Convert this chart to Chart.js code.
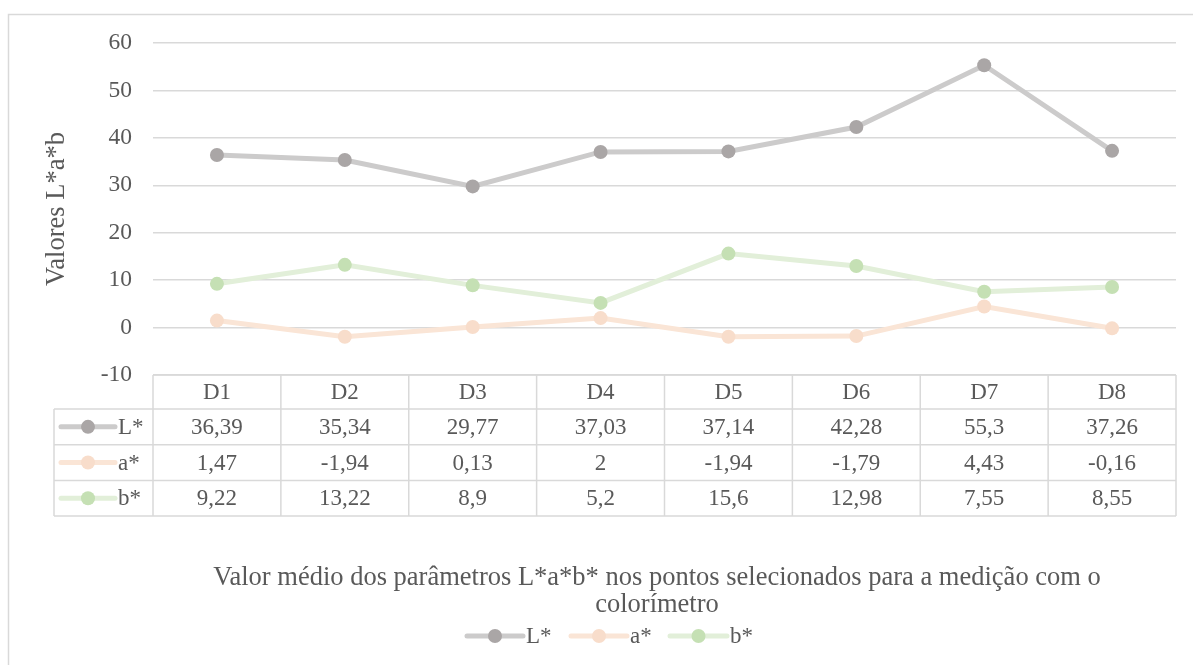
<!DOCTYPE html>
<html>
<head>
<meta charset="utf-8">
<script src="https://cdn.jsdelivr.net/npm/chart.js@4.4.1/dist/chart.umd.min.js"></script>
<style>
  html, body { margin: 0; padding: 0; background: #ffffff; }
  #wrap { width: 1193px; height: 665px; }
</style>
</head>
<body>
<div id="wrap"><canvas id="chart" width="1193" height="665"></canvas></div>
<script>
// Sampling points and mean colorimeter readings
const categories = ['D1', 'D2', 'D3', 'D4', 'D5', 'D6', 'D7', 'D8'];
const lValues = [36.39, 35.34, 29.77, 37.03, 37.14, 42.28, 55.3, 37.26];
const aValues = [1.47, -1.94, 0.13, 2, -1.94, -1.79, 4.43, -0.16];
const bValues = [9.22, 13.22, 8.9, 5.2, 15.6, 12.98, 7.55, 8.55];
const seriesNames = ['L*', 'a*', 'b*'];
const yMin = -10;
const yMax = 60;
const yStep = 10;
const yTitle = 'Valores L*a*b';
const chartTitle = [
  'Valor médio dos parâmetros L*a*b* nos pontos selecionados para a medição com o',
  'colorímetro'
];

const FONT = "'Liberation Serif', 'Times New Roman', serif";
const TEXT = '#595959';
const GRID = '#d9d9d9';
const lineColors = ['#cccbcb', '#fae5d6', '#e2efd9'];
const markerColors = ['#aaa6a6', '#f8ddcb', '#c5e0b4'];
const seriesValues = [lValues, aValues, bValues];

const fmt = v => String(v).replace('.', ',');

function drawKey(ctx, x1, x2, y, i) {
  ctx.save();
  ctx.strokeStyle = lineColors[i];
  ctx.lineWidth = 5;
  ctx.lineCap = 'round';
  ctx.beginPath();
  ctx.moveTo(x1, y);
  ctx.lineTo(x2, y);
  ctx.stroke();
  ctx.fillStyle = markerColors[i];
  ctx.beginPath();
  ctx.arc((x1 + x2) / 2, y, 7, 0, Math.PI * 2);
  ctx.fill();
  ctx.restore();
}

// Data table under the plot, title and legend
const tablePlugin = {
  id: 'dataTable',
  beforeDraw(chart) {
    const ctx = chart.ctx;
    ctx.save();
    ctx.strokeStyle = GRID;
    ctx.lineWidth = 1.5;
    ctx.strokeRect(8.5, 14.5, 1300, 800);
    ctx.restore();
  },
  afterDraw(chart) {
    const ctx = chart.ctx;
    const xs = chart.scales.x;
    const area = chart.chartArea;
    const colW = (area.right - area.left) / categories.length;
    const top = area.bottom;
    const headerBottom = top + 34;
    const rowH = 35.7;
    const bottom = headerBottom + rowH * 3;
    const keyLeft = 54;

    ctx.save();
    ctx.strokeStyle = GRID;
    ctx.lineWidth = 1.5;
    ctx.beginPath();
    // horizontal rules
    ctx.moveTo(area.left, top); ctx.lineTo(area.right, top);
    for (let r = 0; r <= 3; r++) {
      const y = headerBottom + r * rowH;
      ctx.moveTo(keyLeft, y); ctx.lineTo(area.right, y);
    }
    // vertical rules
    ctx.moveTo(keyLeft, headerBottom); ctx.lineTo(keyLeft, bottom);
    for (let c = 0; c <= categories.length; c++) {
      const x = area.left + c * colW;
      ctx.moveTo(x, top); ctx.lineTo(x, bottom);
    }
    ctx.stroke();

    ctx.fillStyle = TEXT;
    ctx.font = '23px ' + FONT;
    ctx.textAlign = 'center';
    ctx.textBaseline = 'middle';
    categories.forEach((c, i) => {
      const x = xs.getPixelForValue(i);
      ctx.fillText(c, x, (top + headerBottom) / 2 + 1);
      seriesValues.forEach((vals, r) => {
        const y = headerBottom + r * rowH + rowH / 2 + 1;
        ctx.fillText(fmt(vals[i]), x, y);
      });
    });
    // row keys
    seriesNames.forEach((name, r) => {
      const y = headerBottom + r * rowH + rowH / 2;
      drawKey(ctx, 61, 115, y, r);
      ctx.fillStyle = TEXT;
      ctx.textAlign = 'left';
      ctx.fillText(name, 118, y + 1);
    });

    // title
    ctx.font = '26.5px ' + FONT;
    ctx.textAlign = 'center';
    ctx.fillStyle = TEXT;
    ctx.fillText(chartTitle[0], 657, 578);
    ctx.fillText(chartTitle[1], 657, 605);

    // legend
    ctx.font = '23px ' + FONT;
    const ly = 636;
    const keys = [[467, 523], [571, 627], [670, 727]];
    seriesNames.forEach((name, i) => {
      drawKey(ctx, keys[i][0], keys[i][1], ly, i);
      ctx.fillStyle = TEXT;
      ctx.textAlign = 'left';
      ctx.fillText(name, keys[i][1] + 3, ly + 1);
    });
    ctx.restore();
  }
};

const datasets = seriesNames.map((name, i) => ({
  label: name,
  data: seriesValues[i],
  borderColor: lineColors[i],
  backgroundColor: markerColors[i],
  borderWidth: 5,
  pointRadius: 7,
  pointBorderWidth: 0,
  pointBackgroundColor: markerColors[i],
  tension: 0,
  clip: false
}));

new Chart(document.getElementById('chart'), {
  type: 'line',
  data: { labels: categories, datasets: datasets.slice().reverse() },
  options: {
    responsive: false,
    animation: false,
    events: [],
    layout: { padding: { left: 0, top: 43, right: 17, bottom: 290 } },
    plugins: {
      legend: { display: false },
      title: { display: false },
      tooltip: { enabled: false }
    },
    scales: {
      x: {
        type: 'category',
        offset: true,
        display: false
      },
      y: {
        min: yMin,
        max: yMax,
        afterFit(scale) { scale.width = 153; },
        ticks: {
          stepSize: yStep,
          padding: 21,
          color: TEXT,
          font: { family: FONT, size: 23.5 }
        },
        grid: { color: GRID, lineWidth: 1.5, drawTicks: false },
        border: { display: false },
        title: {
          display: true,
          text: yTitle,
          color: TEXT,
          font: { family: FONT, size: 26.5 },
          padding: { top: 41, bottom: 0 }
        }
      }
    }
  },
  plugins: [tablePlugin]
});
</script>
</body>
</html>
